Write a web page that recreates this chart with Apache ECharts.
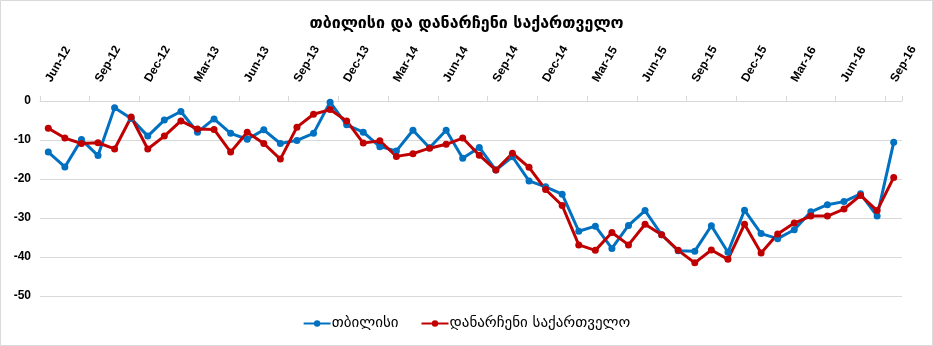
<!DOCTYPE html>
<html><head><meta charset="utf-8">
<script src="https://cdn.jsdelivr.net/npm/echarts@6/dist/echarts.min.js"></script>
<style>html,body{margin:0;padding:0;background:#fff}#c{width:933px;height:346px}</style>
</head><body><div id="c"></div>
<script>
const months = ['Jun-12','Jul-12','Aug-12','Sep-12','Oct-12','Nov-12','Dec-12','Jan-13','Feb-13','Mar-13','Apr-13','May-13',
'Jun-13','Jul-13','Aug-13','Sep-13','Oct-13','Nov-13','Dec-13','Jan-14','Feb-14','Mar-14','Apr-14','May-14',
'Jun-14','Jul-14','Aug-14','Sep-14','Oct-14','Nov-14','Dec-14','Jan-15','Feb-15','Mar-15','Apr-15','May-15',
'Jun-15','Jul-15','Aug-15','Sep-15','Oct-15','Nov-15','Dec-15','Jan-16','Feb-16','Mar-16','Apr-16','May-16',
'Jun-16','Jul-16','Aug-16','Sep-16'];
const tbilisi = [-13.1,-16.9,-9.9,-14.0,-1.7,-4.5,-9.0,-4.9,-2.7,-8.0,-4.6,-8.3,
-9.8,-7.4,-10.9,-10.1,-8.3,-0.3,-6.1,-8.0,-11.7,-12.8,-7.5,-12.0,
-7.5,-14.7,-11.9,-17.7,-14.3,-20.5,-22.0,-23.9,-33.4,-32.1,-37.8,-31.9,
-28.1,-34.3,-38.4,-38.5,-32.0,-38.8,-28.0,-34.0,-35.3,-33.0,-28.4,-26.6,
-25.8,-23.8,-29.5,-10.6];
const rest = [-7.0,-9.5,-10.9,-10.7,-12.3,-4.1,-12.3,-9.0,-5.1,-7.2,-7.3,-13.1,
-8.0,-10.9,-14.9,-6.7,-3.4,-2.2,-5.1,-10.8,-10.2,-14.2,-13.5,-12.1,
-11.1,-9.5,-13.9,-17.7,-13.4,-17.0,-22.7,-26.8,-36.9,-38.3,-33.7,-36.9,
-31.6,-34.3,-38.3,-41.5,-38.2,-40.6,-31.6,-39.0,-34.1,-31.3,-29.5,-29.5,
-27.7,-24.2,-28.1,-19.6];
const seriesNames = ['თბილისი','დანარჩენი საქართველო'];
const title = 'თბილისი და დანარჩენი საქართველო';
const yTicks = {min:-50, max:0, interval:10};

const chart = echarts.init(document.getElementById('c'));
const geo = '"DejaVu Sans", "Noto Sans", sans-serif';
chart.setOption({
  animation:false,
  backgroundColor:'#fff',
  title:{text:title, left:'center', top:11, textStyle:{fontFamily:geo, fontSize:16, fontWeight:'bold', color:'#000'}},
  legend:{bottom:10, left:'center', itemWidth:27, itemHeight:8, itemGap:22,
    textStyle:{fontFamily:geo, fontSize:15, color:'#000', padding:[0,0,0,-4]},
    data:seriesNames},
  grid:{left:40, right:31, top:101, bottom:50},
  xAxis:{type:'category', position:'top', data:months, boundaryGap:true,
    axisLine:{show:true, lineStyle:{color:'#d9d9d9'}},
    axisTick:{show:true, interval:2, length:5, lineStyle:{color:'#d9d9d9'}},
    axisLabel:{interval:2, rotate:60, margin:20, align:'left', verticalAlign:'middle',
      fontFamily:'"Liberation Sans", Arial, sans-serif', fontSize:12, fontWeight:'bold', color:'#000'}},
  yAxis:{type:'value', min:yTicks.min, max:yTicks.max, interval:yTicks.interval,
    axisLine:{show:false}, axisTick:{show:false},
    splitLine:{lineStyle:{color:'#d9d9d9'}},
    axisLabel:{margin:9, fontFamily:'"Liberation Sans", Arial, sans-serif', fontSize:12, fontWeight:'bold', color:'#000'}},
  series:[
    {name:seriesNames[0], type:'line', data:tbilisi, symbol:'circle', symbolSize:7,
      itemStyle:{color:'#0070C0'}, lineStyle:{width:3, color:'#0070C0'}},
    {name:seriesNames[1], type:'line', data:rest, symbol:'circle', symbolSize:7,
      itemStyle:{color:'#C00000'}, lineStyle:{width:3, color:'#C00000'}}
  ],
  graphic:[{type:'rect', silent:true, shape:{x:0.5,y:0.5,width:932,height:345},
    style:{fill:'none', stroke:'#d9d9d9', lineWidth:1}}]
});
</script></body></html>
